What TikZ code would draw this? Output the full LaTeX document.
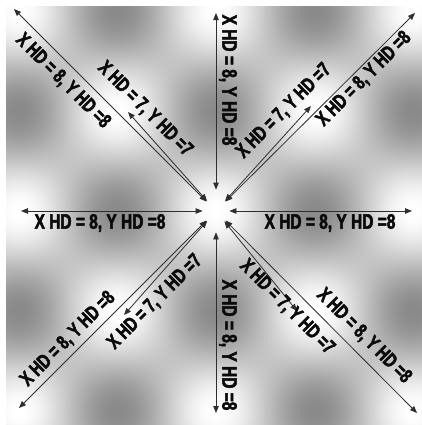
\documentclass[tikz,border=0pt]{standalone}
\usepackage{fontspec}
\setmainfont{Liberation Sans}
\newfontfamily\hdfont{Liberation Sans}[FakeStretch=0.74,FakeBold=2.4]
\usetikzlibrary{arrows.meta}
\definecolor{cInk}{HTML}{0A0A0A}
\definecolor{cLine}{HTML}{2E2E2E}
% cos(x)cos(y) grey field behind the arrows
\pgfdeclarefunctionalshading{hdfield}{\pgfpoint{0bp}{0bp}}{\pgfpoint{416bp}{420bp}}{}{
  214 sub 1.8 mul cos exch 210 sub 1.82 mul cos mul 0.23 mul 0.77 add dup dup}
\tikzset{
  every picture/.style={line width=0.8pt},
  hdlab/.style={font=\hdfont\bfseries\fontsize{21}{21}\selectfont, text=cInk,
                inner sep=0pt},
  hddiag/.style={hdlab, font=\hdfont\bfseries\fontsize{20}{20}\selectfont},
  hdarrow/.style={{Triangle[length=7bp,width=5.5bp]}-{Triangle[length=7bp,width=5.5bp]},
                  draw=cLine},
  hub/.style={circle, minimum size=26bp, inner sep=0pt},
}

\begin{document}
\begin{tikzpicture}[x=1bp,y=-1bp]
\useasboundingbox (0,0) rectangle (422,425);

% ---------------------------------------------------------------- background
\node[inner sep=0pt, outer sep=0pt, anchor=north west] (field) at (6,5)
     {\pgfuseshading{hdfield}};

% ---------------------------------------------------------------- hub and ends
\node[hub] (hub) at (216,211) {};

\coordinate (eN) at (216,13);
\coordinate (eS) at (216,413);
\coordinate (eW) at (21,211);
\coordinate (eE) at (412,211);
\coordinate (eNWa) at (14,9);
\coordinate (eNWb) at (128,112);
\coordinate (eNEa) at (415,13);
\coordinate (eNEb) at (311,106);
\coordinate (eSWa) at (19,408);
\coordinate (eSWb) at (124,315);
\coordinate (eSEa) at (417,413);
\coordinate (eSEb) at (297,311);

% ---------------------------------------------------------------- arrows
\foreach \e in {eW,eE,eNWa,eNWb,eNEa,eNEb,eSWa,eSWb,eSEa,eSEb}
  \draw[hdarrow] (hub) -- (\e);
\foreach \e in {eN,eS}
  \draw[hdarrow, shorten <=8bp] (hub) -- (\e);

% ---------------------------------------------------------------- labels
\node[hdlab] (lW) at (100,223) {X HD = 8, Y HD =8};
\node[hdlab] (lE) at (330,223) {X HD = 8, Y HD =8};
\node[hdlab, rotate=-90] (lN) at (228,80) {X HD = 8, Y HD =8};
\node[hdlab, rotate=-90] (lS) at (228,345) {X HD = 8, Y HD =8};

\node[hddiag, rotate=-45] (lNWa) at (63,81) {X HD = 8, Y HD =8};
\node[hddiag, rotate=-45] (lNWb) at (145,109) {X HD = 7, Y HD =7};
\node[hddiag, rotate=45] (lNEa) at (364,79) {X HD = 8, Y HD =8};
\node[hddiag, rotate=45] (lNEb) at (284,111) {X HD = 7, Y HD =7};
\node[hddiag, rotate=45] (lSWa) at (68,339) {X HD = 8, Y HD =8};
\node[hddiag, rotate=45] (lSWb) at (155,302) {X HD = 7, Y HD =7};
\node[hddiag, rotate=-45] (lSEa) at (364,336) {X HD = 8, Y HD =8};
\node[hddiag, rotate=-45] (lSEb) at (287,307) {X HD = 7, Y HD =7};

\end{tikzpicture}
\end{document}
